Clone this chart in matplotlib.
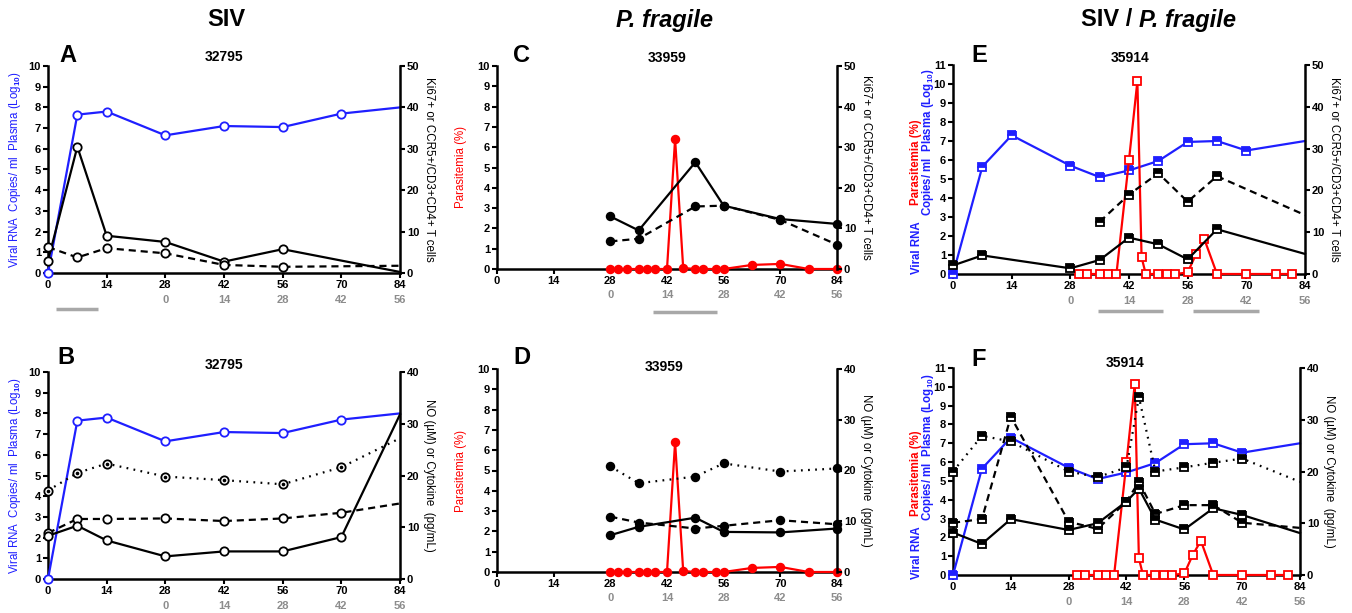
import matplotlib
matplotlib.use('Agg')
import matplotlib.pyplot as plt
import matplotlib.transforms as mtrans

plt.rcParams['font.family'] = ['Liberation Sans', 'DejaVu Sans']
plt.rcParams['font.weight'] = 'bold'
plt.rcParams['mathtext.fontset'] = 'custom'
plt.rcParams['mathtext.rm'] = 'Liberation Sans:bold'
plt.rcParams['mathtext.bf'] = 'Liberation Sans:bold'
plt.rcParams['mathtext.default'] = 'bf'

# ---------------- data ----------------
x_ticks = [0, 14, 28, 42, 56, 70, 84]
sec_pos = [28, 42, 56, 70, 84]
sec_lab = ['0', '14', '28', '42', '56']

# Animal 32795 (SIV)
d_siv = [0, 7, 14, 28, 42, 56, 70, 84]
vl_32795 = [0, 7.65, 7.8, 6.65, 7.1, 7.05, 7.7, 8.0]
d_cell_32795 = [0, 7, 14, 28, 42, 56, 84]
ki67_32795 = [3.0, 30.5, 9.0, 7.5, 2.75, 5.75, 0.25]
ccr5_32795 = [6.25, 3.75, 6.0, 4.75, 1.95, 1.5, 1.75]
no_32795 = [17.1, 20.5, 22.3, 19.8, 19.1, 18.3, 21.6, 27.2]
cytA_32795 = [8.9, 11.6, 11.6, 11.7, 11.2, 11.7, 12.8, 14.6]
cytB_32795 = [8.35, 10.3, 7.45, 4.37, 5.33, 5.33, 8.1, 31.8]

# Animal 33959 (P. fragile)
d_par_33959 = [28, 30, 32, 35, 37, 39, 42, 44, 46, 49, 51, 54, 56, 63, 70, 77, 84]
par_33959 = [0, 0, 0, 0, 0, 0, 0, 6.4, 0.05, 0, 0, 0, 0, 0.2, 0.25, 0, 0]
d_cell_33959 = [28, 35, 49, 56, 70, 84]
ki67_33959 = [12.95, 9.5, 26.3, 15.6, 12.3, 11.1]
ccr5_33959 = [6.8, 7.46, 15.4, 15.6, 12.1, 6.0]
no_33959 = [20.8, 17.5, 18.8, 21.4, 19.8, 20.4]
cytA_33959 = [10.9, 9.75, 8.57, 9.1, 10.2, 9.4]
cytB_33959 = [7.25, 8.9, 10.7, 7.9, 7.8, 8.57]

# Animal 35914 (SIV / P. fragile)
d_vl_35914 = [0, 7, 14, 28, 35, 42, 49, 56, 63, 70, 84]
vl_35914 = [0, 5.65, 7.3, 5.7, 5.1, 5.45, 5.95, 6.95, 7.0, 6.5, 7.0]
d_par_35914 = [30, 32, 35, 37, 39, 42, 44, 45, 46, 49, 51, 53, 56, 58, 60, 63, 70, 77, 81]
par_35914 = [0, 0, 0, 0, 0, 6.0, 10.15, 0.88, 0, 0, 0, 0, 0.08, 1.05, 1.82, 0, 0, 0, 0]
d_ki67_35914 = [0, 7, 28, 35, 42, 49, 56, 63, 84]
ki67_35914 = [2.05, 4.45, 1.36, 3.35, 8.7, 7.1, 3.5, 10.7, 4.8]
d_ccr5_35914 = [35, 42, 49, 56, 63, 84]
ccr5_35914 = [12.5, 19.0, 24.1, 17.3, 23.4, 14.1]
d_cyt_35914 = [0, 7, 14, 28, 35, 42, 45, 49, 56, 63, 70, 84]
no_35914 = [20.0, 26.9, 25.8, 20.0, 18.9, 20.8, 34.4, 20.0, 20.8, 21.7, 22.5, 18.0]
cytA_35914 = [10.1, 10.8, 30.6, 10.3, 8.9, 14.2, 18.0, 11.8, 13.5, 13.5, 10.1, 9.1]
cytB_35914 = [8.2, 6.0, 10.8, 8.7, 10.0, 14.2, 16.7, 10.7, 8.8, 12.9, 11.6, 8.1]

# treatment bars (days)
bars_A = [(2, 12)]
bars_C = [(38.5, 54.3)]
bars_E = [(34.6, 50.1), (57.3, 73)]

# ---------------- styling ----------------
BLUE = '#1f1fff'
RED = '#ff0000'
GREY = '#8c8c8c'
BARG = '#a8a8a8'
SOLID = '-'
DASH = (0, (3.2, 2.2))
DOT = (0, (0.8, 2.4))
TICK_FS = 8

W, H = 1352, 613
fig = plt.figure(figsize=(W / 100, H / 100), dpi=100)


def rect(l, r, t, b):
    return [l / W, 1 - b / H, (r - l) / W, (b - t) / H]


def setup(rc, ymaxl, ymaxr):
    ax = fig.add_axes(rc)
    ax.set_xlim(0, 84)
    ax.set_ylim(0, ymaxl)
    ax.set_xticks(x_ticks)
    ax.set_yticks(range(0, ymaxl + 1))
    axr = ax.twinx()
    axr.set_ylim(0, ymaxr)
    axr.set_yticks(range(0, ymaxr + 1, 10))
    for a in (ax, axr):
        a.spines['top'].set_visible(False)
        for s in a.spines.values():
            s.set_linewidth(1.8)
        a.tick_params(width=1.5, length=3.5, labelsize=TICK_FS, pad=1.5)
    ax.spines['right'].set_visible(False)
    axr.spines['left'].set_visible(False)
    axr.spines['bottom'].set_visible(False)
    tr = mtrans.blended_transform_factory(ax.transData, ax.transAxes)
    for p, l in zip(sec_pos, sec_lab):
        ax.text(p, -0.13, l, transform=tr, ha='center', va='center',
                color=GREY, fontsize=TICK_FS)
    return ax, axr


def bars(ax, spans, yf):
    tr = mtrans.blended_transform_factory(ax.transData, ax.transAxes)
    for a, b in spans:
        ax.plot([a, b], [yf, yf], transform=tr, color=BARG, lw=2.5,
                clip_on=False, solid_capstyle='butt')


def series(ax, x, y, color, ls, marker='o', face='white', end=True, ms=6,
           fill='full', dot=False):
    me = None if end else list(range(len(x) - 1))
    kw = dict(color=color, ls=ls, lw=1.6, marker=marker, ms=ms, mec=color,
              mew=1.3, markevery=me, clip_on=False, zorder=3)
    if fill == 'top':
        kw.update(fillstyle='top', mfc=color, mfcalt='white')
    else:
        kw.update(mfc=face)
    ax.plot(x, y, **kw)
    if dot:
        xs = x if end else x[:-1]
        ys = y if end else y[:-1]
        ax.plot(xs, ys, ls='none', marker='o', ms=1.6, color=color,
                clip_on=False, zorder=4)


def ftext(x, y, s, **kw):
    fig.text(x / W, 1 - y / H, s, ha='center', va='center', **kw)


VL_LABEL = 'Viral RNA  Copies/ ml  Plasma (Log$_{10}$)'
CELL_LABEL = 'Ki67+ or CCR5+/CD3+CD4+ T cells'
CYT_LABEL = 'NO (\u00b5M) or Cytokine  (pg/mL)'

# ---------------- Panel A ----------------
ax, axr = setup(rect(48, 400, 66, 273), 10, 50)
series(ax, d_siv, vl_32795, BLUE, SOLID, end=False)
series(axr, d_cell_32795, ki67_32795, 'black', SOLID, end=False)
series(axr, d_cell_32795, ccr5_32795, 'black', DASH, end=False)
ax.set_ylabel(VL_LABEL, color=BLUE, fontsize=8.3, labelpad=4)
axr.set_ylabel(CELL_LABEL, rotation=-90, fontsize=8.3, labelpad=11)
bars(ax, bars_A, -0.174)

# ---------------- Panel B ----------------
ax, axr = setup(rect(48, 400, 372, 579), 10, 40)
series(ax, d_siv, vl_32795, BLUE, SOLID, end=False)
series(axr, d_siv, no_32795, 'black', DOT, end=False, dot=True)
series(axr, d_siv, cytA_32795, 'black', DASH, end=False)
series(axr, d_siv, cytB_32795, 'black', SOLID, end=False)
ax.set_ylabel(VL_LABEL, color=BLUE, fontsize=8.3, labelpad=4)
axr.set_ylabel(CYT_LABEL, rotation=-90, fontsize=8.3, labelpad=11)

# ---------------- Panel C ----------------
ax, axr = setup(rect(497, 837, 66, 269), 10, 50)
series(ax, d_par_33959, par_33959, RED, SOLID, face=RED, ms=5.5)
series(axr, d_cell_33959, ki67_33959, 'black', SOLID, face='black', ms=5.5)
series(axr, d_cell_33959, ccr5_33959, 'black', DASH, face='black', ms=5.5)
ax.set_ylabel('Parasitemia (%)', color=RED, fontsize=8.3, labelpad=8)
axr.set_ylabel(CELL_LABEL, rotation=-90, fontsize=8.3, labelpad=11)
bars(ax, bars_C, -0.21)

# ---------------- Panel D ----------------
ax, axr = setup(rect(497, 837, 369, 572), 10, 40)
series(ax, d_par_33959, par_33959, RED, SOLID, face=RED, ms=5.5)
series(axr, d_cell_33959, no_33959, 'black', DOT, face='black', ms=5.5)
series(axr, d_cell_33959, cytA_33959, 'black', DASH, face='black', ms=5.5)
series(axr, d_cell_33959, cytB_33959, 'black', SOLID, face='black', ms=5.5)
ax.set_ylabel('Parasitemia (%)', color=RED, fontsize=8.3, labelpad=8)
axr.set_ylabel(CYT_LABEL, rotation=-90, fontsize=8.3, labelpad=11)

# ---------------- Panel E ----------------
ax, axr = setup(rect(953, 1305, 65, 274), 11, 50)
series(ax, d_vl_35914, vl_35914, BLUE, SOLID, marker='s', ms=5.5, fill='top', end=False)
series(ax, d_par_35914, par_35914, RED, SOLID, marker='s', ms=5.5)
series(axr, d_ki67_35914, ki67_35914, 'black', SOLID, marker='s', ms=5.5, fill='top', end=False)
series(axr, d_ccr5_35914, ccr5_35914, 'black', DASH, marker='s', ms=5.5, fill='top', end=False)
axr.set_ylabel(CELL_LABEL, rotation=-90, fontsize=8.3, labelpad=11)
bars(ax, bars_E, -0.177)
ftext(916, 162, 'Parasitemia (%)', color=RED, fontsize=8.3, rotation=90)
ftext(917, 248, 'Viral RNA', color=BLUE, fontsize=8.3, rotation=90)
ftext(928, 142, 'Copies/ ml  Plasma (Log$_{10}$)', color=BLUE, fontsize=8.3, rotation=90)

# ---------------- Panel F ----------------
ax, axr = setup(rect(953, 1300, 368, 575), 11, 40)
series(ax, d_vl_35914, vl_35914, BLUE, SOLID, marker='s', ms=5.5, fill='top', end=False)
series(ax, d_par_35914, par_35914, RED, SOLID, marker='s', ms=5.5)
series(axr, d_cyt_35914, no_35914, 'black', DOT, marker='s', ms=5.5, fill='top', end=False)
series(axr, d_cyt_35914, cytA_35914, 'black', DASH, marker='s', ms=5.5, fill='top', end=False)
series(axr, d_cyt_35914, cytB_35914, 'black', SOLID, marker='s', ms=5.5, fill='top', end=False)
axr.set_ylabel(CYT_LABEL, rotation=-90, fontsize=8.3, labelpad=11)
ftext(916, 473, 'Parasitemia (%)', color=RED, fontsize=8.3, rotation=90)
ftext(917, 553, 'Viral RNA', color=BLUE, fontsize=8.3, rotation=90)
ftext(928, 447, 'Copies/ ml  Plasma (Log$_{10}$)', color=BLUE, fontsize=8.3, rotation=90)

# ---------------- titles / letters ----------------
ftext(226, 20, 'SIV', fontsize=17)
ftext(665, 20, 'P. fragile', fontsize=17, style='italic')
fig.text(1139 / W, 1 - 20 / H, 'SIV / ', ha='right', va='center', fontsize=17)
fig.text(1139 / W, 1 - 20 / H, 'P. fragile', ha='left', va='center', fontsize=17, style='italic')

for (lx, ly, lt) in [(68, 55, 'A'), (522, 55, 'C'), (979, 55, 'E'),
                     (66, 357, 'B'), (522, 358, 'D'), (979, 359, 'F')]:
    ftext(lx, ly, lt, fontsize=17)
for (tx, ty, tt) in [(224, 57, '32795'), (667, 58, '33959'), (1130, 58, '35914'),
                     (224, 365, '32795'), (664, 367, '33959'), (1125, 363, '35914')]:
    ftext(tx, ty, tt, fontsize=10)

fig.savefig('out.png', dpi=100)
